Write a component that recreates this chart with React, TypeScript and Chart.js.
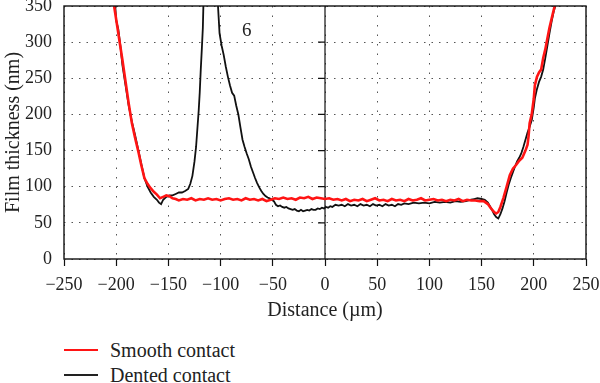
import React, { useEffect, useRef } from "react";
import { Chart, registerables } from "chart.js";

Chart.register(...registerables);

const FONT = "'Liberation Serif', 'Times New Roman', serif";

const xMin = -250;
const xMax = 250;
const xStep = 50;
const yMin = 0;
const yMax = 350;
const yStep = 50;

const seriesLabels = ["Smooth contact", "Dented contact"];
const xTitle = "Distance (\u00b5m)";
const yTitle = "Film thickness (nm)";

const annotationText = "6";
const annotationX = -75;
const annotationY = 315;

const smoothX = [
  -202, -199, -197, -194, -191, -188, -185, -182, -179, -176, -173, -170, -167, -164, -161, -158, -155, -152, -149, -146,
  -143, -140, -136, -132, -128, -124, -120, -116, -112, -108, -104, -100, -96, -92, -88, -84, -80, -76, -72, -68,
  -64, -60, -56, -52, -48, -44, -40, -36, -32, -28, -24, -20, -16, -12, -8, -4, 0, 4, 8, 12,
  16, 20, 24, 28, 32, 36, 40, 44, 48, 52, 56, 60, 64, 68, 72, 76, 80, 84, 88, 92,
  96, 100, 104, 108, 112, 116, 120, 124, 128, 132, 136, 140, 144, 148, 152, 156, 159, 162, 164, 166,
  168, 171, 174, 177, 180, 183, 186, 189, 192, 194, 195, 196, 198, 200, 201, 203, 205, 207, 209, 211,
  213, 215, 218, 220, 222,
];
const smoothY = [
  350, 322, 303, 275, 245, 215, 188, 168, 150, 130, 112, 104, 98, 93, 89, 84, 86, 88, 87, 84,
  83, 81, 83, 82, 84, 81, 83, 82, 84, 82, 83, 81, 83, 84, 82, 83, 81, 84, 82, 83,
  81, 83, 80, 82, 84, 83, 85, 83, 84, 82, 85, 84, 86, 83, 85, 84, 83, 84, 82, 83,
  81, 83, 80, 82, 81, 83, 80, 82, 84, 81, 82, 80, 83, 81, 82, 80, 83, 81, 82, 84,
  81, 82, 83, 81, 82, 80, 82, 81, 83, 80, 82, 81, 81, 80, 80, 76, 70, 65, 63, 65,
  72, 85, 100, 116, 125, 130, 136, 140, 150, 158, 170, 188, 200, 222, 240, 252, 258, 262, 278, 290,
  305, 320, 338, 350, 362,
];

const dentedX = [
  -201, -200, -198, -196, -194, -191, -188, -185, -182, -179, -176, -173, -170, -167, -164, -161, -159, -157, -155, -152,
  -149, -146, -143, -140, -137, -134, -131, -129, -127, -125, -123.5, -122, -121, -120, -119, -118, -117, -116.5, -115, -104,
  -103, -102.5, -101, -99, -97, -95, -93, -91, -89, -87, -85, -83, -81, -79, -77, -75, -73, -71, -69, -67,
  -65, -63, -61, -59, -57, -55, -53, -51, -49, -47, -45, -43, -41, -39, -37, -35, -33, -31, -29, -27,
  -25, -23, -21, -19, -17, -15, -13, -11, -9, -7, -5, -3, -1, 1, 3, 5, 7, 10, 13, 16,
  19, 22, 25, 28, 31, 34, 37, 40, 43, 46, 49, 52, 55, 58, 61, 64, 67, 70, 73, 76,
  80, 85, 90, 95, 100, 105, 110, 115, 120, 125, 130, 135, 140, 143, 146, 150, 153, 156, 158, 160,
  162, 164, 166, 168, 170, 172, 174, 176, 178, 180, 182, 184, 186, 188, 190, 192, 194, 196, 198, 200,
  201, 203, 205, 207, 209, 211, 213, 215, 217, 219, 221, 223,
];
const dentedY = [
  352, 330, 318, 295, 268, 240, 212, 190, 172, 152, 132, 112, 100, 92, 86, 82, 78, 76, 82, 86,
  88, 88, 90, 92, 92, 94, 97, 104, 115, 135, 155, 185, 205, 230, 262, 290, 320, 350, 380, 380,
  380, 350, 312, 295, 282, 266, 252, 240, 230, 226, 212, 200, 182, 165, 155, 146, 138, 128, 120, 112,
  105, 99, 94, 90, 87, 85, 84, 82, 80, 75, 73, 74, 72, 71, 72, 70, 69, 68, 69, 67,
  66, 68, 66, 67, 68, 67, 69, 68, 68, 70, 69, 71, 70, 72, 71, 73, 72, 75, 74, 75,
  73, 76, 74, 75, 73, 76, 74, 75, 73, 76, 74, 75, 73, 76, 74, 75, 73, 76, 75, 77,
  76, 78, 77, 78, 77, 79, 78, 79, 78, 80, 79, 80, 82, 83, 84, 83, 82, 78, 73, 68,
  62, 58, 56, 62, 70, 80, 92, 103, 112, 120, 128, 135, 140, 146, 155, 165, 175, 183, 192, 210,
  222, 235, 245, 252, 262, 278, 295, 312, 328, 342, 352, 362,
];

const framePlugin = {
  id: "frame",
  beforeDatasetsDraw(chart: any) {
    const { ctx, chartArea: a, scales } = chart;
    const x = scales.x;
    const y = scales.y;
    const x0 = x.getPixelForValue(0);
    ctx.save();
    ctx.strokeStyle = "#111";
    ctx.lineWidth = 1.2;
    ctx.setLineDash([]);
    ctx.beginPath();
    ctx.moveTo(x0, a.top);
    ctx.lineTo(x0, a.bottom);
    for (const t of y.ticks) {
      if (t.value > yMin && t.value < yMax) {
        const py = y.getPixelForValue(t.value);
        ctx.moveTo(x0 - 7, py);
        ctx.lineTo(x0, py);
      }
    }
    ctx.stroke();
    ctx.restore();
  },
  afterDatasetsDraw(chart: any) {
    const { ctx, chartArea: a, scales } = chart;
    ctx.save();
    ctx.strokeStyle = "#111";
    ctx.lineWidth = 1.4;
    ctx.setLineDash([]);
    ctx.strokeRect(a.left, a.top, a.right - a.left, a.bottom - a.top);
    ctx.fillStyle = "#222";
    ctx.font = `19px ${FONT}`;
    ctx.textAlign = "center";
    ctx.textBaseline = "middle";
    ctx.fillText(annotationText, scales.x.getPixelForValue(annotationX), scales.y.getPixelForValue(annotationY));
    ctx.restore();
  },
};

export default function App() {
  const ref = useRef<HTMLCanvasElement>(null);
  useEffect(() => {
    const chart = new Chart(ref.current as HTMLCanvasElement, {
      type: "line",
      data: {
        datasets: [
          {
            label: seriesLabels[0],
            data: smoothX.map((x, i) => ({ x, y: smoothY[i] })),
            borderColor: "#ff1414",
            borderWidth: 2.6,
            pointRadius: 0,
            tension: 0,
            clip: 0,
          },
          {
            label: seriesLabels[1],
            data: dentedX.map((x, i) => ({ x, y: dentedY[i] })),
            borderColor: "#111111",
            borderWidth: 1.8,
            pointRadius: 0,
            tension: 0,
            clip: 0,
          },
        ],
      },
      options: {
        responsive: false,
        animation: false,
        events: [],
        layout: { padding: { left: 0, right: 14, top: 6, bottom: 0 } },
        plugins: { legend: { display: false }, tooltip: { enabled: false } },
        scales: {
          x: {
            type: "linear",
            min: xMin,
            max: xMax,
            ticks: {
              stepSize: xStep,
              padding: 8,
              color: "#222",
              font: { family: FONT, size: 18 },
              maxRotation: 0,
              autoSkip: false,
              callback: (v: any) => String(v).replace("-", "\u2212"),
            },
            grid: {
              color: "#555",
              lineWidth: 1,
              drawTicks: true,
              tickLength: 7,
              tickColor: "#111",
              tickWidth: 1.2,
              tickBorderDash: [],
            },
            border: { display: false, dash: [1.5, 8] },
            title: {
              display: true,
              text: xTitle,
              color: "#222",
              font: { family: FONT, size: 20 },
              padding: { top: 0, bottom: 12 },
            },
            afterFit: (s: any) => {
              s.height = 76;
              s.paddingLeft = 0;
              s.paddingRight = 0;
            },
          },
          y: {
            type: "linear",
            min: yMin,
            max: yMax,
            ticks: {
              stepSize: yStep,
              padding: 12,
              color: "#222",
              font: { family: FONT, size: 18 },
            },
            grid: { color: "#555", lineWidth: 1, drawTicks: false },
            border: { display: false, dash: [1.5, 6] },
            title: {
              display: true,
              text: yTitle,
              color: "#222",
              font: { family: FONT, size: 20 },
              padding: { top: 2, bottom: 0 },
            },
            afterFit: (s: any) => {
              s.width = 64;
              s.paddingTop = 0;
              s.paddingBottom = 0;
            },
          },
        },
      },
      plugins: [framePlugin],
    } as any);
    return () => chart.destroy();
  }, []);

  return (
    <div style={{ position: "fixed", left: 0, top: 0, width: 600, height: 383, background: "#fff", overflow: "hidden" }}>
      <canvas ref={ref} width={600} height={335} style={{ display: "block", width: 600, height: 335 }} />
      {seriesLabels.map((lab, i) => (
        <div
          key={lab}
          style={{
            position: "absolute",
            left: 64,
            top: 338 + i * 25,
            height: 24,
            display: "flex",
            alignItems: "center",
            fontFamily: FONT,
            fontSize: 20,
            color: "#222",
            whiteSpace: "nowrap",
          }}
        >
          <span style={{ display: "inline-block", width: 34, height: 2, background: i === 0 ? "#ff1414" : "#222", marginRight: 12 }} />
          <span>{lab}</span>
        </div>
      ))}
    </div>
  );
}
